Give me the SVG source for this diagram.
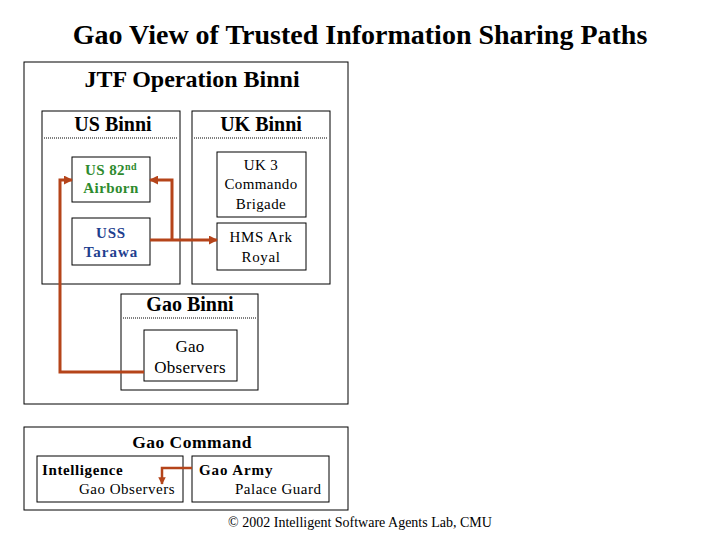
<svg xmlns="http://www.w3.org/2000/svg" width="720" height="540" viewBox="0 0 720 540">
<defs>
<style>
text{font-family:"Liberation Serif","Times New Roman",serif;fill:#000}
.box{fill:#fff;stroke:#000;stroke-width:1}
.dot{stroke:#000;stroke-width:1;stroke-dasharray:1 1}
.b{font-weight:bold}
.c{text-anchor:middle}
.conn{fill:none;stroke:#B5441A;stroke-width:3}
</style>
<marker id="ah" viewBox="0 0 10 10" refX="9" refY="5" markerWidth="3" markerHeight="3" orient="auto" markerUnits="strokeWidth">
<path d="M0,0L10,5L0,10z" fill="#B5441A"/>
</marker>
</defs>
<rect width="720" height="540" fill="#fff"/>
<text x="360" y="44" class="c b" font-size="28">Gao View of Trusted Information Sharing Paths</text>

<g id="jtf">
<rect class="box" x="24" y="62" width="324" height="342"/>
<text x="192" y="87" class="c b" font-size="24">JTF Operation Binni</text>
</g>
<g id="us-binni">
<rect class="box" x="42" y="111" width="138" height="173"/>
<line class="dot" x1="44" y1="138" x2="178" y2="138"/>
<text x="113" y="131" class="c b" font-size="20">US Binni</text>
</g>
<g id="uk-binni">
<rect class="box" x="192" y="111" width="138" height="173"/>
<line class="dot" x1="194" y1="138" x2="328" y2="138"/>
<text x="261" y="131" class="c b" font-size="20">UK Binni</text>
</g>
<g id="us82">
<rect class="box" x="72" y="157" width="78" height="45"/>
<text x="111" y="175" class="c b" font-size="15" letter-spacing="0.4" style="fill:#2E8B2E">US 82<tspan font-size="10" dy="-5">nd</tspan></text>
<text x="111" y="193" class="c b" font-size="15" letter-spacing="0.4" style="fill:#2E8B2E">Airborn</text>
</g>
<g id="tarawa">
<rect class="box" x="72" y="218" width="78" height="47"/>
<text x="111" y="238" class="c b" font-size="15" letter-spacing="0.8" style="fill:#1F3F8F">USS</text>
<text x="111" y="257" class="c b" font-size="15" letter-spacing="1" style="fill:#1F3F8F">Tarawa</text>
</g>
<g id="uk3">
<rect class="box" x="217" y="152" width="89" height="65"/>
<text x="261" y="170" class="c" font-size="15" letter-spacing="0.4">UK 3</text>
<text x="261" y="189" class="c" font-size="15" letter-spacing="0.4">Commando</text>
<text x="261" y="209" class="c" font-size="15" letter-spacing="0.4">Brigade</text>
</g>
<g id="hms">
<rect class="box" x="217" y="223" width="89" height="47"/>
<text x="261" y="242" class="c" font-size="15" letter-spacing="0.6">HMS Ark</text>
<text x="261" y="262" class="c" font-size="15" letter-spacing="0.6">Royal</text>
</g>
<g id="gao-binni">
<rect class="box" x="121" y="294" width="137" height="96"/>
<line class="dot" x1="123" y1="318" x2="256" y2="318"/>
<text x="190" y="311" class="c b" font-size="20">Gao Binni</text>
</g>
<g id="gao-obs">
<rect class="box" x="144" y="330" width="93" height="51"/>
<text x="190" y="352" class="c" font-size="17" letter-spacing="0.3">Gao</text>
<text x="190" y="373" class="c" font-size="17" letter-spacing="0.3">Observers</text>
</g>
<g id="gao-command">
<rect class="box" x="24" y="427" width="324" height="83"/>
<text x="192" y="448" class="c b" font-size="17.5" letter-spacing="0.5">Gao Command</text>
</g>
<g id="intelligence">
<rect class="box" x="37" y="456" width="146" height="46"/>
<text x="42" y="475" class="b" font-size="15" letter-spacing="0.6">Intelligence</text>
<text x="79" y="494" font-size="15" letter-spacing="0.5">Gao Observers</text>
</g>
<g id="gao-army">
<rect class="box" x="192" y="456" width="137" height="46"/>
<text x="199" y="475" class="b" font-size="15" letter-spacing="0.9">Gao Army</text>
<text x="235" y="494" font-size="15" letter-spacing="0.5">Palace Guard</text>
</g>

<g id="connectors">
<path class="conn" d="M144,372H60V180H72" marker-end="url(#ah)"/>
<path class="conn" d="M150,240H217" marker-end="url(#ah)"/>
<path class="conn" d="M172,240V180H150" marker-end="url(#ah)"/>
<path class="conn" d="M192,468H162V484" marker-end="url(#ah)" style="stroke-width:2.5"/>
</g>

<text x="360" y="527" class="c" font-size="14">© 2002 Intelligent Software Agents Lab, CMU</text>
</svg>
